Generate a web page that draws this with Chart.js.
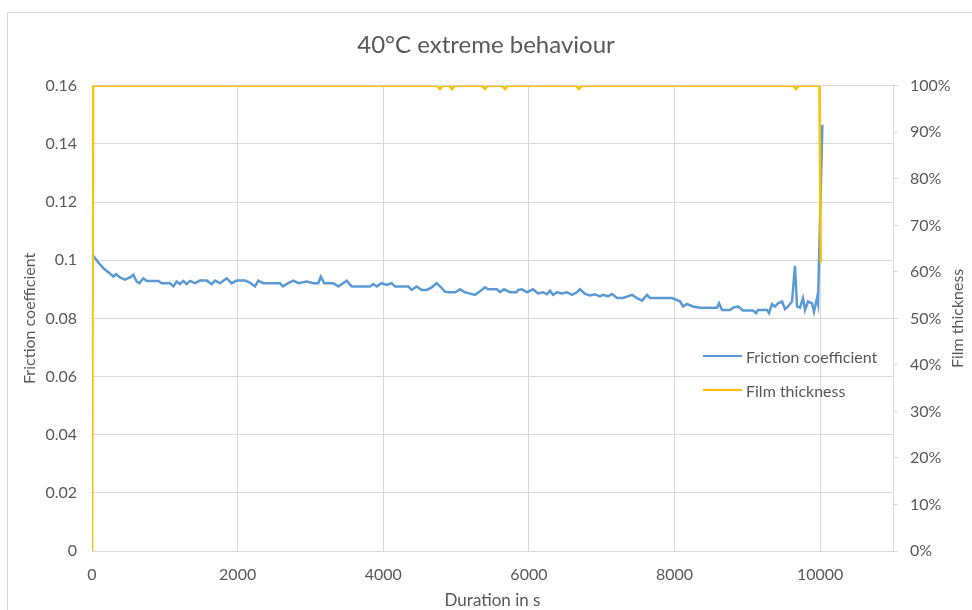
<!DOCTYPE html>
<html>
<head>
<meta charset="utf-8">
<script src="https://cdn.jsdelivr.net/npm/chart.js@4.4.1/dist/chart.umd.min.js"></script>
<style>
  html, body { margin: 0; padding: 0; background: #fff; overflow: hidden; }
  #wrap { position: relative; width: 972px; height: 640px; }
  #frame { position: absolute; left: 7px; top: 12px; width: 1000px; height: 700px;
           border-left: 1px solid #d9d9d9; border-top: 1px solid #d9d9d9; }
  #perfChart { position: absolute; left: 0; top: 0; }
  #legend { position: absolute; left: 703px; top: 346px; font: 16px Lato, sans-serif; color: #595959; }
  .item { display: flex; align-items: center; height: 20px; margin-bottom: 14px; }
  .swatch { width: 39px; height: 2.5px; margin-right: 4px; }
</style>
</head>
<body>
<div id="wrap">
  <div id="frame"></div>
  <canvas id="perfChart" width="972" height="640"></canvas>
  <div id="legend"></div>
</div>
<script>
const chartTitle = '40°C extreme behaviour';
const xAxisTitle = 'Duration in s';
const frictionAxisTitle = 'Friction coefficient';
const filmAxisTitle = 'Film thickness';

// tick values + labels
const xTickValues = [0, 2000, 4000, 6000, 8000, 10000];
const xTickLabels = ['0', '2000', '4000', '6000', '8000', '10000'];
const frictionTickValues = [0, 0.02, 0.04, 0.06, 0.08, 0.1, 0.12, 0.14, 0.16];
const frictionTickLabels = ['0', '0.02', '0.04', '0.06', '0.08', '0.1', '0.12', '0.14', '0.16'];
const filmTickValues = [0, 10, 20, 30, 40, 50, 60, 70, 80, 90, 100];
const filmTickLabels = ['0%', '10%', '20%', '30%', '40%', '50%', '60%', '70%', '80%', '90%', '100%'];

// friction coefficient (time in s, value)
const frictionTime = [20, 87, 155, 224, 293, 330, 385, 453, 522, 567, 613, 650, 705, 751, 911, 957,
  1071, 1117, 1163, 1208, 1254, 1300, 1346, 1414, 1483, 1574, 1643, 1689, 1757, 1849, 1918, 1986,
  2101, 2170, 2238, 2284, 2353, 2582, 2620, 2696, 2765, 2834, 2948, 3040, 3108, 3142, 3188, 3314,
  3383, 3497, 3566, 3818, 3864, 3910, 3978, 4045, 4115, 4161, 4344, 4390, 4458, 4527, 4595, 4660,
  4733, 4779, 4848, 4893, 4990, 5054, 5122, 5168, 5260, 5328, 5397, 5438, 5560, 5603, 5658, 5740,
  5830, 5850, 5905, 5974, 6056, 6125, 6194, 6248, 6290, 6331, 6386, 6454, 6523, 6592, 6660, 6702,
  6770, 6839, 6908, 6976, 7018, 7086, 7141, 7210, 7292, 7416, 7484, 7553, 7622, 7663, 7965, 8075,
  8117, 8171, 8250, 8350, 8583, 8611, 8652, 8762, 8803, 8872, 8940, 9077, 9119, 9146, 9270, 9297,
  9338, 9380, 9421, 9476, 9517, 9558, 9613, 9654, 9682, 9723, 9764, 9792, 9833, 9888, 9915, 9956,
  9970, 10030];
const frictionValue = [0.1015, 0.0992, 0.0973, 0.0959, 0.0944, 0.0952, 0.0941, 0.0933, 0.0941, 0.0950, 0.0927, 0.0921, 0.0938, 0.0929, 0.0929, 0.0921,
  0.0921, 0.0910, 0.0927, 0.0918, 0.0929, 0.0918, 0.0929, 0.0921, 0.0930, 0.0930, 0.0918, 0.0930, 0.0921, 0.0938, 0.0921, 0.0930,
  0.0930, 0.0923, 0.0910, 0.0930, 0.0921, 0.0921, 0.0910, 0.0921, 0.0930, 0.0921, 0.0927, 0.0921, 0.0921, 0.0944, 0.0921, 0.0921,
  0.0910, 0.0930, 0.0910, 0.0910, 0.0918, 0.0910, 0.0921, 0.0915, 0.0921, 0.0910, 0.0910, 0.0898, 0.0910, 0.0898, 0.0898, 0.0906,
  0.0921, 0.0910, 0.0892, 0.0890, 0.0890, 0.0900, 0.0890, 0.0887, 0.0881, 0.0893, 0.0907, 0.0900, 0.0900, 0.0890, 0.0900, 0.0890,
  0.0890, 0.0898, 0.0900, 0.0890, 0.0900, 0.0886, 0.0890, 0.0883, 0.0895, 0.0881, 0.0890, 0.0886, 0.0890, 0.0881, 0.0890, 0.0900,
  0.0884, 0.0879, 0.0883, 0.0876, 0.0881, 0.0876, 0.0884, 0.0870, 0.0870, 0.0881, 0.0870, 0.0861, 0.0881, 0.0870, 0.0870, 0.0859,
  0.0841, 0.0850, 0.0841, 0.0837, 0.0837, 0.0852, 0.0829, 0.0829, 0.0837, 0.0841, 0.0827, 0.0827, 0.0818, 0.0829, 0.0829, 0.0818,
  0.0849, 0.0841, 0.0852, 0.0858, 0.0832, 0.0841, 0.0858, 0.0981, 0.0841, 0.0837, 0.0870, 0.0829, 0.0858, 0.0852, 0.0823, 0.0870,
  0.0852, 0.1466];

// film thickness (time in s, %)
const filmTime = [0, 15, 4740, 4778, 4815, 4905, 4943, 4980, 5360, 5396, 5432, 5635, 5671, 5707,
  6650, 6687, 6724, 9630, 9667, 9704, 9990, 10008];
const filmValue = [0, 100, 100, 99.3, 100, 100, 99.3, 100, 100, 99.3, 100, 100, 99.3, 100,
  100, 99.3, 100, 100, 99.3, 100, 100, 62];

const textColor = '#595959';
const gridColor = '#d9d9d9';
Chart.defaults.font.family = 'Lato, sans-serif';
Chart.defaults.font.size = 16;
Chart.defaults.color = textColor;

const toPoints = (xs, ys) => xs.map((x, i) => ({ x, y: ys[i] }));

// right axis title reads bottom-to-top, chart.js rotates the other way
const rightTitle = {
  id: 'rightTitle',
  afterDraw(chart) {
    const s = chart.scales.y1;
    const ctx = chart.ctx;
    ctx.save();
    ctx.font = '16px Lato, sans-serif';
    ctx.fillStyle = textColor;
    ctx.textAlign = 'center';
    ctx.textBaseline = 'middle';
    ctx.translate(s.right - 14, (s.top + s.bottom) / 2);
    ctx.rotate(-Math.PI / 2);
    ctx.fillText(filmAxisTitle, 0, 0);
    ctx.restore();
  }
};

const ctx = document.getElementById('perfChart').getContext('2d');

const chart = new Chart(ctx, {
  type: 'scatter',
  data: {
    datasets: [{
      label: 'Friction coefficient',
      data: toPoints(frictionTime, frictionValue),
      borderColor: '#5b9bd5',
      borderWidth: 2.5,
      showLine: true,
      pointRadius: 0,
      tension: 0,
      yAxisID: 'y',
      order: 1
    }, {
      label: 'Film thickness',
      data: toPoints(filmTime, filmValue),
      borderColor: '#ffc000',
      borderWidth: 2.5,
      showLine: true,
      pointRadius: 0,
      tension: 0,
      yAxisID: 'y1',
      order: 0
    }]
  },
  options: {
    responsive: false,
    animation: false,
    layout: { padding: 0 },
    plugins: {
      legend: { display: false },
      tooltip: { enabled: false },
      title: {
        display: true,
        text: chartTitle,
        color: textColor,
        font: { size: 24, weight: 'normal' },
        padding: { top: 31, bottom: 26 }
      }
    },
    scales: {
      x: {
        type: 'linear',
        min: 0,
        max: 11000,
        afterBuildTicks: s => { s.ticks = xTickValues.map(v => ({ value: v })); },
        afterFit: s => { s.height = 89; },
        ticks: { padding: 14, maxRotation: 0, callback: (v, i) => xTickLabels[i] },
        grid: { color: gridColor, drawTicks: false },
        border: { display: true, color: gridColor },
        title: { display: true, text: xAxisTitle, font: { size: 17 }, padding: { top: 0, bottom: 29 } }
      },
      y: {
        position: 'left',
        min: 0,
        max: 0.16,
        afterBuildTicks: s => { s.ticks = frictionTickValues.map(v => ({ value: v })); },
        afterFit: s => { s.width = 92; },
        ticks: { padding: 15, callback: (v, i) => frictionTickLabels[i] },
        grid: { color: gridColor, drawTicks: false },
        border: { display: false },
        title: { display: true, text: frictionAxisTitle, padding: { top: 20, bottom: 0 } }
      },
      y1: {
        position: 'right',
        min: 0,
        max: 100,
        afterBuildTicks: s => { s.ticks = filmTickValues.map(v => ({ value: v })); },
        afterFit: s => { s.width = 79; },
        ticks: { padding: 12, callback: (v, i) => filmTickLabels[i] },
        grid: { color: gridColor, drawOnChartArea: false, drawTicks: true, tickLength: 5 },
        border: { display: true, color: gridColor }
      }
    }
  },
  plugins: [rightTitle]
});

// legend sits inside the plot area, built from the datasets
const legendEl = document.getElementById('legend');
chart.data.datasets.forEach(ds => {
  const item = document.createElement('div');
  item.className = 'item';
  const sw = document.createElement('span');
  sw.className = 'swatch';
  sw.style.background = ds.borderColor;
  const label = document.createElement('span');
  label.textContent = ds.label;
  item.appendChild(sw);
  item.appendChild(label);
  legendEl.appendChild(item);
});
</script>
</body>
</html>
